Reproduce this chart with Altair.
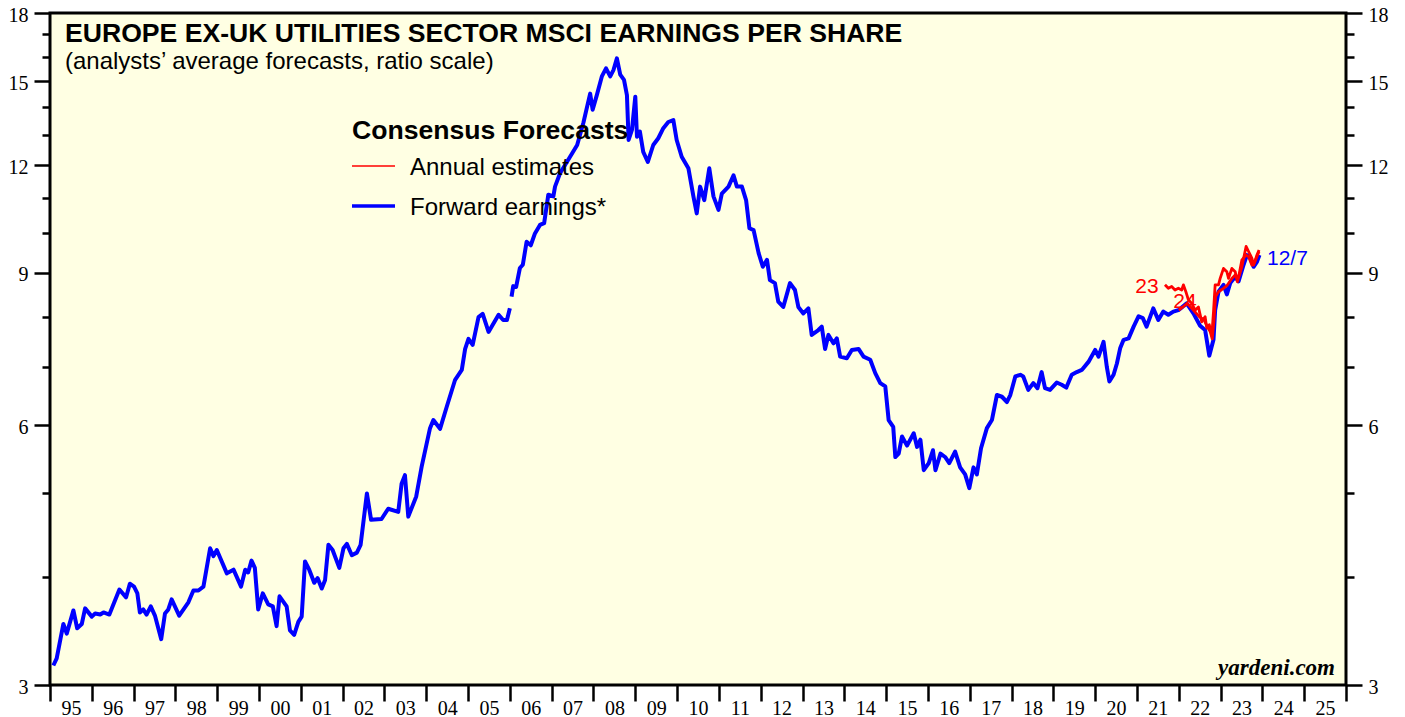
import altair as alt
import pandas as pd

# ---------------- data ----------------
# Forward earnings, first segment (1995 - end 2005)
fwd1_t = [1995.08, 1995.16, 1995.32, 1995.40, 1995.56, 1995.65, 1995.76, 1995.84, 1996.00, 1996.08,
          1996.20, 1996.28, 1996.42, 1996.66, 1996.82, 1996.91, 1997.01, 1997.09, 1997.15, 1997.23,
          1997.31, 1997.41, 1997.51, 1997.66, 1997.75, 1997.83, 1997.91, 1998.09, 1998.31, 1998.43,
          1998.55, 1998.67, 1998.83, 1998.91, 1998.99, 1999.23, 1999.39, 1999.57, 1999.67, 1999.74,
          1999.82, 1999.90, 1999.98, 2000.09, 2000.22, 2000.33, 2000.42, 2000.49, 2000.66, 2000.74,
          2000.84, 2000.94, 2001.02, 2001.10, 2001.20, 2001.32, 2001.40, 2001.50, 2001.58, 2001.66,
          2001.76, 2001.92, 2002.02, 2002.10, 2002.22, 2002.34, 2002.43, 2002.58, 2002.68, 2002.93,
          2003.09, 2003.33, 2003.41, 2003.49, 2003.57, 2003.76, 2003.89, 2004.09, 2004.17, 2004.33,
          2004.49, 2004.69, 2004.85, 2004.93, 2005.01, 2005.11, 2005.25, 2005.35, 2005.49, 2005.73,
          2005.84, 2005.93, 2006.00]
fwd1_v = [3.16, 3.22, 3.53, 3.44, 3.66, 3.49, 3.53, 3.68, 3.60, 3.63,
          3.62, 3.64, 3.62, 3.87, 3.79, 3.93, 3.90, 3.83, 3.64, 3.67,
          3.62, 3.70, 3.61, 3.39, 3.63, 3.67, 3.77, 3.61, 3.74, 3.86,
          3.86, 3.90, 4.32, 4.23, 4.30, 4.04, 4.08, 3.90, 4.08, 4.05,
          4.18, 4.10, 3.67, 3.83, 3.72, 3.70, 3.51, 3.80, 3.70, 3.47,
          3.43, 3.55, 3.60, 4.17, 4.08, 3.94, 3.99, 3.88, 3.97, 4.36,
          4.30, 4.10, 4.32, 4.37, 4.24, 4.27, 4.36, 5.00, 4.66, 4.67,
          4.80, 4.76, 5.13, 5.25, 4.70, 4.96, 5.37, 5.95, 6.08, 5.94,
          6.30, 6.77, 6.95, 7.35, 7.55, 7.43, 8.00, 8.07, 7.69, 8.05,
          7.94, 7.94, 8.19]

# Forward earnings, second segment (2006 - 12/7/2023)
fwd2_t = [2006.04, 2006.08, 2006.15, 2006.24, 2006.31, 2006.40, 2006.50, 2006.60, 2006.72, 2006.82,
          2006.92, 2007.04, 2007.08, 2007.20, 2007.44, 2007.61, 2007.76, 2007.92, 2007.98, 2008.08,
          2008.20, 2008.30, 2008.40, 2008.48, 2008.56, 2008.64, 2008.73, 2008.80, 2008.84, 2008.92,
          2009.00, 2009.04, 2009.11, 2009.19, 2009.30, 2009.43, 2009.55, 2009.67, 2009.79, 2009.91,
          2009.99, 2010.11, 2010.27, 2010.39, 2010.47, 2010.55, 2010.65, 2010.77, 2010.87, 2010.99,
          2011.07, 2011.23, 2011.35, 2011.43, 2011.55, 2011.65, 2011.73, 2011.83, 2011.95, 2012.05,
          2012.15, 2012.22, 2012.34, 2012.42, 2012.54, 2012.70, 2012.82, 2012.90, 2013.02, 2013.14,
          2013.22, 2013.38, 2013.46, 2013.54, 2013.62, 2013.74, 2013.82, 2013.90, 2014.06, 2014.18,
          2014.34, 2014.46, 2014.62, 2014.74, 2014.86, 2014.98, 2015.06, 2015.17, 2015.22, 2015.30,
          2015.38, 2015.50, 2015.66, 2015.74, 2015.82, 2015.90, 2016.02, 2016.12, 2016.18, 2016.30,
          2016.41, 2016.51, 2016.65, 2016.77, 2016.89, 2016.99, 2017.09, 2017.17, 2017.27, 2017.41,
          2017.53, 2017.65, 2017.77, 2017.89, 2017.97, 2018.09, 2018.21, 2018.28, 2018.40, 2018.52,
          2018.62, 2018.72, 2018.80, 2018.92, 2019.08, 2019.20, 2019.31, 2019.44, 2019.56, 2019.68,
          2019.84, 2020.00, 2020.08, 2020.20, 2020.28, 2020.34, 2020.44, 2020.52, 2020.60, 2020.68,
          2020.80, 2020.92, 2021.04, 2021.14, 2021.23, 2021.39, 2021.51, 2021.63, 2021.75, 2021.87,
          2021.99, 2022.19, 2022.35, 2022.51, 2022.63, 2022.73, 2022.83, 2022.87, 2022.95, 2023.07,
          2023.15, 2023.23, 2023.35, 2023.43, 2023.55, 2023.63, 2023.71, 2023.79, 2023.87, 2023.93]
fwd2_v = [8.45, 8.69, 8.67, 9.12, 9.20, 9.78, 9.69, 10.00, 10.23, 10.28,
          11.09, 11.04, 11.33, 11.74, 12.27, 12.66, 13.44, 14.52, 13.91, 14.46,
          15.20, 15.53, 15.20, 15.47, 15.95, 15.27, 15.06, 14.46, 12.83, 13.18,
          14.40, 12.94, 13.12, 12.43, 12.10, 12.66, 12.89, 13.24, 13.46, 13.53,
          12.83, 12.27, 11.90, 11.04, 10.55, 11.33, 10.93, 11.90, 11.04, 10.65,
          11.12, 11.33, 11.68, 11.33, 11.33, 10.93, 10.14, 10.09, 9.49, 9.15,
          9.32, 8.83, 8.76, 8.34, 8.22, 8.76, 8.60, 8.22, 8.08, 8.19,
          7.63, 7.73, 7.80, 7.35, 7.63, 7.46, 7.56, 7.20, 7.17, 7.33,
          7.35, 7.20, 7.14, 6.89, 6.71, 6.65, 6.08, 5.97, 5.51, 5.56,
          5.82, 5.68, 5.87, 5.66, 5.77, 5.32, 5.42, 5.61, 5.32, 5.56,
          5.51, 5.42, 5.59, 5.36, 5.26, 5.07, 5.36, 5.26, 5.64, 5.95,
          6.08, 6.50, 6.47, 6.38, 6.50, 6.83, 6.86, 6.83, 6.59, 6.71,
          6.62, 6.91, 6.62, 6.59, 6.72, 6.68, 6.63, 6.86, 6.91, 6.95,
          7.10, 7.33, 7.20, 7.49, 7.00, 6.74, 6.86, 7.07, 7.37, 7.53,
          7.56, 7.80, 8.02, 7.98, 7.80, 8.19, 7.94, 8.12, 8.05, 8.12,
          8.15, 8.30, 8.08, 7.82, 7.73, 7.22, 7.53, 8.15, 8.56, 8.72,
          8.50, 8.76, 8.91, 8.80, 9.20, 9.44, 9.37, 9.15, 9.27, 9.44]

# Annual estimates: 2023
est23_t = [2021.67, 2021.75, 2021.83, 2021.91, 2021.99, 2022.07, 2022.11, 2022.18, 2022.23, 2022.31,
           2022.39, 2022.47, 2022.55, 2022.63, 2022.67, 2022.73, 2022.79, 2022.83, 2022.87, 2022.95,
           2022.99, 2023.07, 2023.15, 2023.19, 2023.27, 2023.35, 2023.40, 2023.51, 2023.61, 2023.67,
           2023.75, 2023.79, 2023.87, 2023.92]
est23_v = [8.72, 8.64, 8.68, 8.60, 8.64, 8.60, 8.72, 8.53, 8.38, 8.30,
           8.15, 8.22, 7.90, 8.01, 7.77, 7.84, 7.62, 8.11, 8.72, 8.72,
           8.87, 9.11, 9.03, 8.87, 9.11, 9.03, 8.79, 9.15, 9.66, 9.53,
           9.36, 9.19, 9.44, 9.57]

# Annual estimates: 2024
est24_t = [2022.00, 2022.10, 2022.20, 2022.30, 2022.40, 2022.50, 2022.60, 2022.68, 2022.75, 2022.80,
           2022.84, 2022.88, 2022.95, 2023.07, 2023.15, 2023.27, 2023.35, 2023.43, 2023.51, 2023.61,
           2023.67, 2023.75, 2023.81, 2023.92]
est24_v = [8.15, 8.22, 8.30, 8.20, 8.10, 8.00, 7.95, 7.80, 7.70, 7.55,
           7.90, 8.45, 8.56, 8.64, 8.70, 8.87, 8.95, 8.90, 9.32, 9.44,
           9.40, 9.19, 9.25, 9.53]

# Series annotations
red_lab_text = ["23", "24"]
red_lab_t = [2021.24, 2022.15]
red_lab_v = [8.67, 8.33]
blue_lab_text = ["12/7"]
blue_lab_t = [2024.11]
blue_lab_v = [9.34]

y_ticks = list(range(3, 19))
year_ticks = list(range(1995, 2027))

# ---------------- tables ----------------
fwd = pd.concat([
    pd.DataFrame({"t": fwd1_t, "v": fwd1_v, "seg": "a"}),
    pd.DataFrame({"t": fwd2_t, "v": fwd2_v, "seg": "b"}),
])
est = pd.concat([
    pd.DataFrame({"t": est23_t, "v": est23_v, "yr": "2023"}),
    pd.DataFrame({"t": est24_t, "v": est24_v, "yr": "2024"}),
])
red_lab = pd.DataFrame({"t": red_lab_t, "v": red_lab_v, "text": red_lab_text})
blue_lab = pd.DataFrame({"t": blue_lab_t, "v": blue_lab_v, "text": blue_lab_text})

W, H = 1296, 672
SERIF = "Liberation Serif"
SANS = "Liberation Sans"

xscale = alt.Scale(domain=[1995, 2026], nice=False, zero=False)
yscale = alt.Scale(type="log", domain=[3, 18], nice=False)

x_axis = alt.Axis(
    orient="bottom", values=year_ticks, grid=False, domain=False, title=None,
    tickSize=16, tickWidth=2.5, tickColor="black",
    labelExpr="datum.value < 2026 ? substring(toString(datum.value), 2, 4) : ''",
    labelOffset=20.9, labelPadding=-3, labelFlush=False, labelOverlap=False, labelBound=False,
    labelFont=SERIF, labelFontSize=20, labelColor="black",
)


def y_axis(orient):
    return alt.Axis(
        orient=orient, values=y_ticks, grid=False, domain=False, title=None,
        tickSize={"condition": {"test": "datum.value % 3 === 0", "value": 16}, "value": 8},
        tickWidth=2.5, tickColor="black",
        labelExpr="datum.value % 3 === 0 ? toString(datum.value) : ''",
        labelPadding=6, labelOffset=2, labelFlush=False, labelOverlap=False, labelBound=False,
        labelFont=SERIF, labelFontSize=20, labelColor="black",
    )


X = alt.X("t:Q", scale=xscale, axis=x_axis)
YL = alt.Y("v:Q", scale=yscale, axis=y_axis("left"))
YR = alt.Y("v:Q", scale=yscale, axis=y_axis("right"))

blue = alt.Chart(fwd).mark_line(color="#0000FF", strokeWidth=4, strokeJoin="round").encode(
    x=X, y=YL, detail="seg:N", order="t:Q")
red = alt.Chart(est).mark_line(color="#FF0000", strokeWidth=2.8, strokeJoin="round").encode(
    x=X, y=YL, detail="yr:N", order="t:Q")
red_marks = alt.Chart(red_lab).mark_text(font=SANS, fontSize=21, baseline="middle", align="center",
                                         color="#FF0000").encode(x=X, y=YL, text="text:N")
blue_marks = alt.Chart(blue_lab).mark_text(font=SANS, fontSize=21, baseline="middle", align="left",
                                           color="#0000FF").encode(x=X, y=YL, text="text:N")

right_axis = alt.Chart(fwd).mark_line(opacity=0).encode(x=X, y=YR, detail="seg:N")


def txt(s, x, y, size, weight="normal", style="normal", font=SANS, align="left", color="black",
        baseline="alphabetic"):
    return alt.Chart(pd.DataFrame({"s": [s]})).mark_text(
        font=font, fontSize=size, fontWeight=weight, fontStyle=style, align=align,
        baseline=baseline, color=color,
    ).encode(x=alt.value(x), y=alt.value(y), text="s:N")


title = txt("EUROPE EX-UK UTILITIES SECTOR MSCI EARNINGS PER SHARE", 15, 29, 26.6, weight="bold")
subtitle = txt("(analysts\u2019 average forecasts, ratio scale)", 15, 56, 24)
leg_head = txt("Consensus Forecasts", 302, 126, 26.6, weight="bold")
leg_a = txt("Annual estimates", 360, 162, 24)
leg_f = txt("Forward earnings*", 360, 202, 24)
leg_red = alt.Chart(pd.DataFrame({"k": [0]})).mark_rule(color="#FF0000", strokeWidth=1.5).encode(
    x=alt.value(302), x2=alt.value(345), y=alt.value(153))
leg_blue = alt.Chart(pd.DataFrame({"k": [0]})).mark_rule(color="#0000FF", strokeWidth=3.5).encode(
    x=alt.value(302), x2=alt.value(345), y=alt.value(193))
credit = txt("yardeni.com", 1285, 662, 23, weight="bold", style="italic", font=SERIF, align="right")

main = alt.layer(blue, red, red_marks, blue_marks, title, subtitle, leg_head, leg_a, leg_f,
                 leg_red, leg_blue, credit)

chart = alt.layer(main, right_axis).resolve_scale(y="independent").properties(
    width=W, height=H,
    autosize=alt.AutoSizeParams(type="none"),
    padding={"left": 42, "top": 5, "right": 51, "bottom": 32},
    background="white",
).configure_view(
    fill="#FFFFE3", stroke="black", strokeWidth=3,
)

chart.save("out.html", embed_options={"renderer": "svg", "actions": False})
